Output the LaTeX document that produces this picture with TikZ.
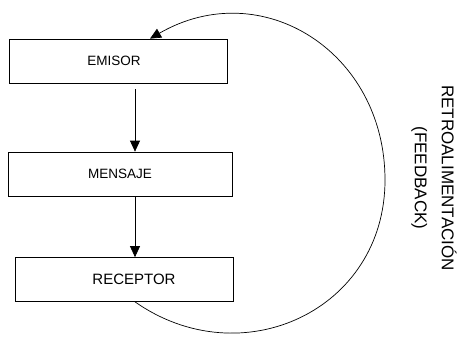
\documentclass[tikz,border=0pt]{standalone}
\usepackage{fontspec}
\setmainfont{Liberation Sans}
\usetikzlibrary{arrows.meta}

\tikzset{
  caja/.style={draw, line width=0.7pt, minimum height=44pt, inner sep=0pt,
    font=\fontsize{13.5}{16}\selectfont},
  flecha/.style={line width=0.7pt, -{Triangle[length=11pt,width=10pt]}}
}

\begin{document}
\begin{tikzpicture}[x=1pt,y=1pt]
\useasboundingbox (0,0) rectangle (465,346);

\begin{scope}[every node/.style={caja}]
\node[minimum width=218pt](emisor) at(118,285) {EMISOR\hspace*{8pt}};
\node[minimum width=224pt](mensaje) at(120,172) {MENSAJE};
\node[minimum width=218pt, font=\fontsize{15}{18}\selectfont](receptor) at(124,66.5) {\hspace*{20pt}RECEPTOR};
\end{scope}

\node[rotate=-90, align=center, font=\fontsize{17}{27}\selectfont](retro) at(434,168)
  {RETROALIMENTACIÓN\\(FEEDBACK)};

\coordinate(giro) at(385,166);

\draw[flecha] ([xshift=17pt,yshift=-6pt]emisor.south) -- ([xshift=15pt]mensaje.north);
\draw[flecha] ([xshift=15pt]mensaje.south) -- ([xshift=11pt]receptor.north);

\draw[flecha]
([xshift=11pt]receptor.south) to[out=-35, in=-90, looseness=1.2]
(giro) to[out=90, in=30, looseness=1.2]
([xshift=32pt]emisor.north)
;

\end{tikzpicture}
\end{document}
